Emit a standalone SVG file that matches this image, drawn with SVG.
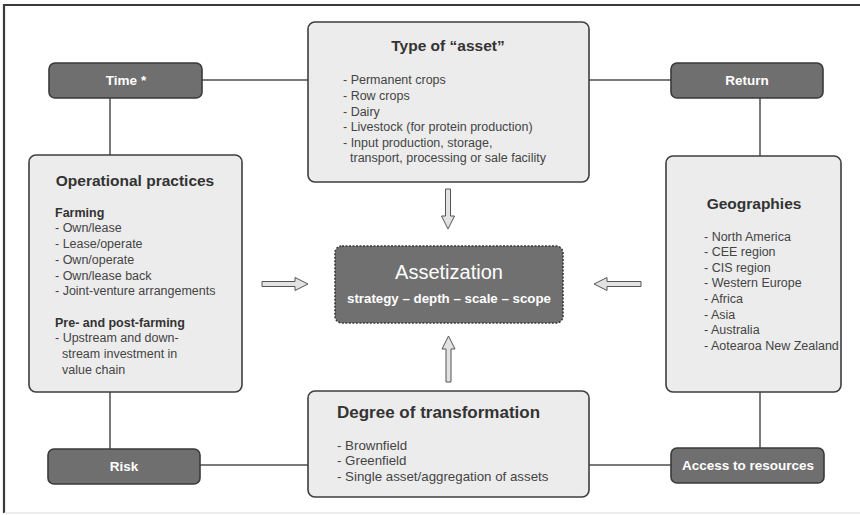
<svg xmlns="http://www.w3.org/2000/svg" width="860" height="515" viewBox="0 0 860 515">
  <defs>
    <style>
      .box { fill: #ececec; stroke: #3e3e3e; stroke-width: 1.6; }
      .dark { fill: #6f6f6f; stroke: #3a3a3a; stroke-width: 1.6; }
      .core { fill: #707070; stroke: #3a3a3a; stroke-width: 1.6; stroke-dasharray: 2 1.5; }
      .link { stroke: #7a7a7a; stroke-width: 2; fill: none; }
      .arrow { fill: #e2e2e2; stroke: #555; stroke-width: 1; }
      text { font-family: "Liberation Sans", Arial, sans-serif; }
      .title { font-size: 15.5px; font-weight: bold; fill: #333; text-anchor: middle; }
      .item { font-size: 12.5px; fill: #444; }
      .sub { font-size: 12.5px; font-weight: bold; fill: #333; }
      .lbl { font-size: 13.5px; font-weight: bold; fill: #fff; text-anchor: middle; }
      .big { font-size: 17px; text-anchor: start; }
      .wide { font-size: 13.3px; }
    </style>
  </defs>

  <!-- frame -->
  <rect x="0" y="0" width="860" height="515" fill="#fff"/>
  <line x1="4" y1="5" x2="860" y2="5" stroke="#3a3a3a" stroke-width="2.2"/>
  <line x1="4" y1="4" x2="4" y2="513" stroke="#3a3a3a" stroke-width="2.2"/>
  <line x1="4" y1="513" x2="860" y2="513" stroke="#d8d8d8" stroke-width="1"/>

  <!-- connectors -->
  <g id="connectors">
    <line class="link" x1="202" y1="80" x2="308" y2="80"/>
    <line class="link" x1="589" y1="80" x2="671" y2="80"/>
    <line class="link" x1="110" y1="98" x2="110" y2="155"/>
    <line class="link" x1="760" y1="98" x2="760" y2="156"/>
    <line class="link" x1="110" y1="392" x2="110" y2="449"/>
    <line class="link" x1="760" y1="392" x2="760" y2="448"/>
    <line class="link" x1="200" y1="465" x2="308" y2="465"/>
    <line class="link" x1="589" y1="465" x2="671" y2="465"/>
    <!-- hollow arrows into the centre -->
    <path class="arrow" d="M445.5,189 h5 v27 h4 l-6.5,13 l-6.5,-13 h4 z"/>
    <path class="arrow" d="M446,382 h5 v-33 h4 l-6.5,-13 l-6.5,13 h4 z"/>
    <path class="arrow" d="M262,281.5 v5 h33 v4 l13,-6.5 l-13,-6.5 v4 z"/>
    <path class="arrow" d="M641,281.5 v5 h-34 v4 l-13,-6.5 l13,-6.5 v4 z"/>
  </g>

  <g id="time">
    <rect class="dark" x="49" y="63" width="153" height="35" rx="6"/>
    <text class="lbl" x="126" y="85">Time *</text>
  </g>

  <g id="return">
    <rect class="dark" x="671" y="63" width="152" height="35" rx="6"/>
    <text class="lbl" x="747" y="85">Return</text>
  </g>

  <g id="risk">
    <rect class="dark" x="48" y="449" width="152" height="35" rx="6"/>
    <text class="lbl" x="124" y="471">Risk</text>
  </g>

  <g id="access">
    <rect class="dark" x="671" y="448" width="153" height="35" rx="6"/>
    <text class="lbl" x="748" y="470">Access to resources</text>
  </g>

  <g id="asset-type">
    <rect class="box" x="308" y="22" width="281" height="160" rx="7"/>
    <text class="title" x="448" y="51">Type of “asset”</text>
    <text class="item" x="343" y="84">- Permanent crops</text>
    <text class="item" x="343" y="100">- Row crops</text>
    <text class="item" x="343" y="116">- Dairy</text>
    <text class="item" x="343" y="131">- Livestock (for protein production)</text>
    <text class="item" x="343" y="147">- Input production, storage,</text>
    <text class="item" x="350" y="162">transport, processing or sale facility</text>
  </g>

  <g id="operational">
    <rect class="box" x="29" y="155" width="213" height="237" rx="7"/>
    <text class="title" x="135" y="186">Operational practices</text>
    <text class="sub" x="55" y="217">Farming</text>
    <text class="item" x="55" y="232">- Own/lease</text>
    <text class="item" x="55" y="248">- Lease/operate</text>
    <text class="item" x="55" y="264">- Own/operate</text>
    <text class="item" x="55" y="280">- Own/lease back</text>
    <text class="item" x="55" y="295">- Joint-venture arrangements</text>
    <text class="sub" x="55" y="327">Pre- and post-farming</text>
    <text class="item" x="55" y="342">- Upstream and down-</text>
    <text class="item" x="62" y="358">stream investment in</text>
    <text class="item" x="62" y="374">value chain</text>
  </g>

  <g id="geographies">
    <rect class="box" x="666" y="156" width="175" height="236" rx="7"/>
    <text class="title" x="754" y="209">Geographies</text>
    <text class="item" x="704" y="241">- North America</text>
    <text class="item" x="704" y="256">- CEE region</text>
    <text class="item" x="704" y="272">- CIS region</text>
    <text class="item" x="704" y="287">- Western Europe</text>
    <text class="item" x="704" y="303">- Africa</text>
    <text class="item" x="704" y="319">- Asia</text>
    <text class="item" x="704" y="334">- Australia</text>
    <text class="item" x="704" y="350">- Aotearoa New Zealand</text>
  </g>

  <g id="transformation">
    <rect class="box" x="308" y="391" width="281" height="106" rx="7"/>
    <text class="title big" x="337" y="418">Degree of transformation</text>
    <text class="item wide" x="337" y="450">- Brownfield</text>
    <text class="item wide" x="337" y="465">- Greenfield</text>
    <text class="item wide" x="337" y="481">- Single asset/aggregation of assets</text>
  </g>

  <g id="assetization">
    <rect class="core" x="335" y="246" width="228" height="77" rx="7"/>
    <text x="449" y="279" font-size="20" fill="#fff" text-anchor="middle">Assetization</text>
    <text x="449" y="303" font-size="13.3" font-weight="bold" fill="#fff" text-anchor="middle">strategy – depth – scale – scope</text>
  </g>
</svg>
